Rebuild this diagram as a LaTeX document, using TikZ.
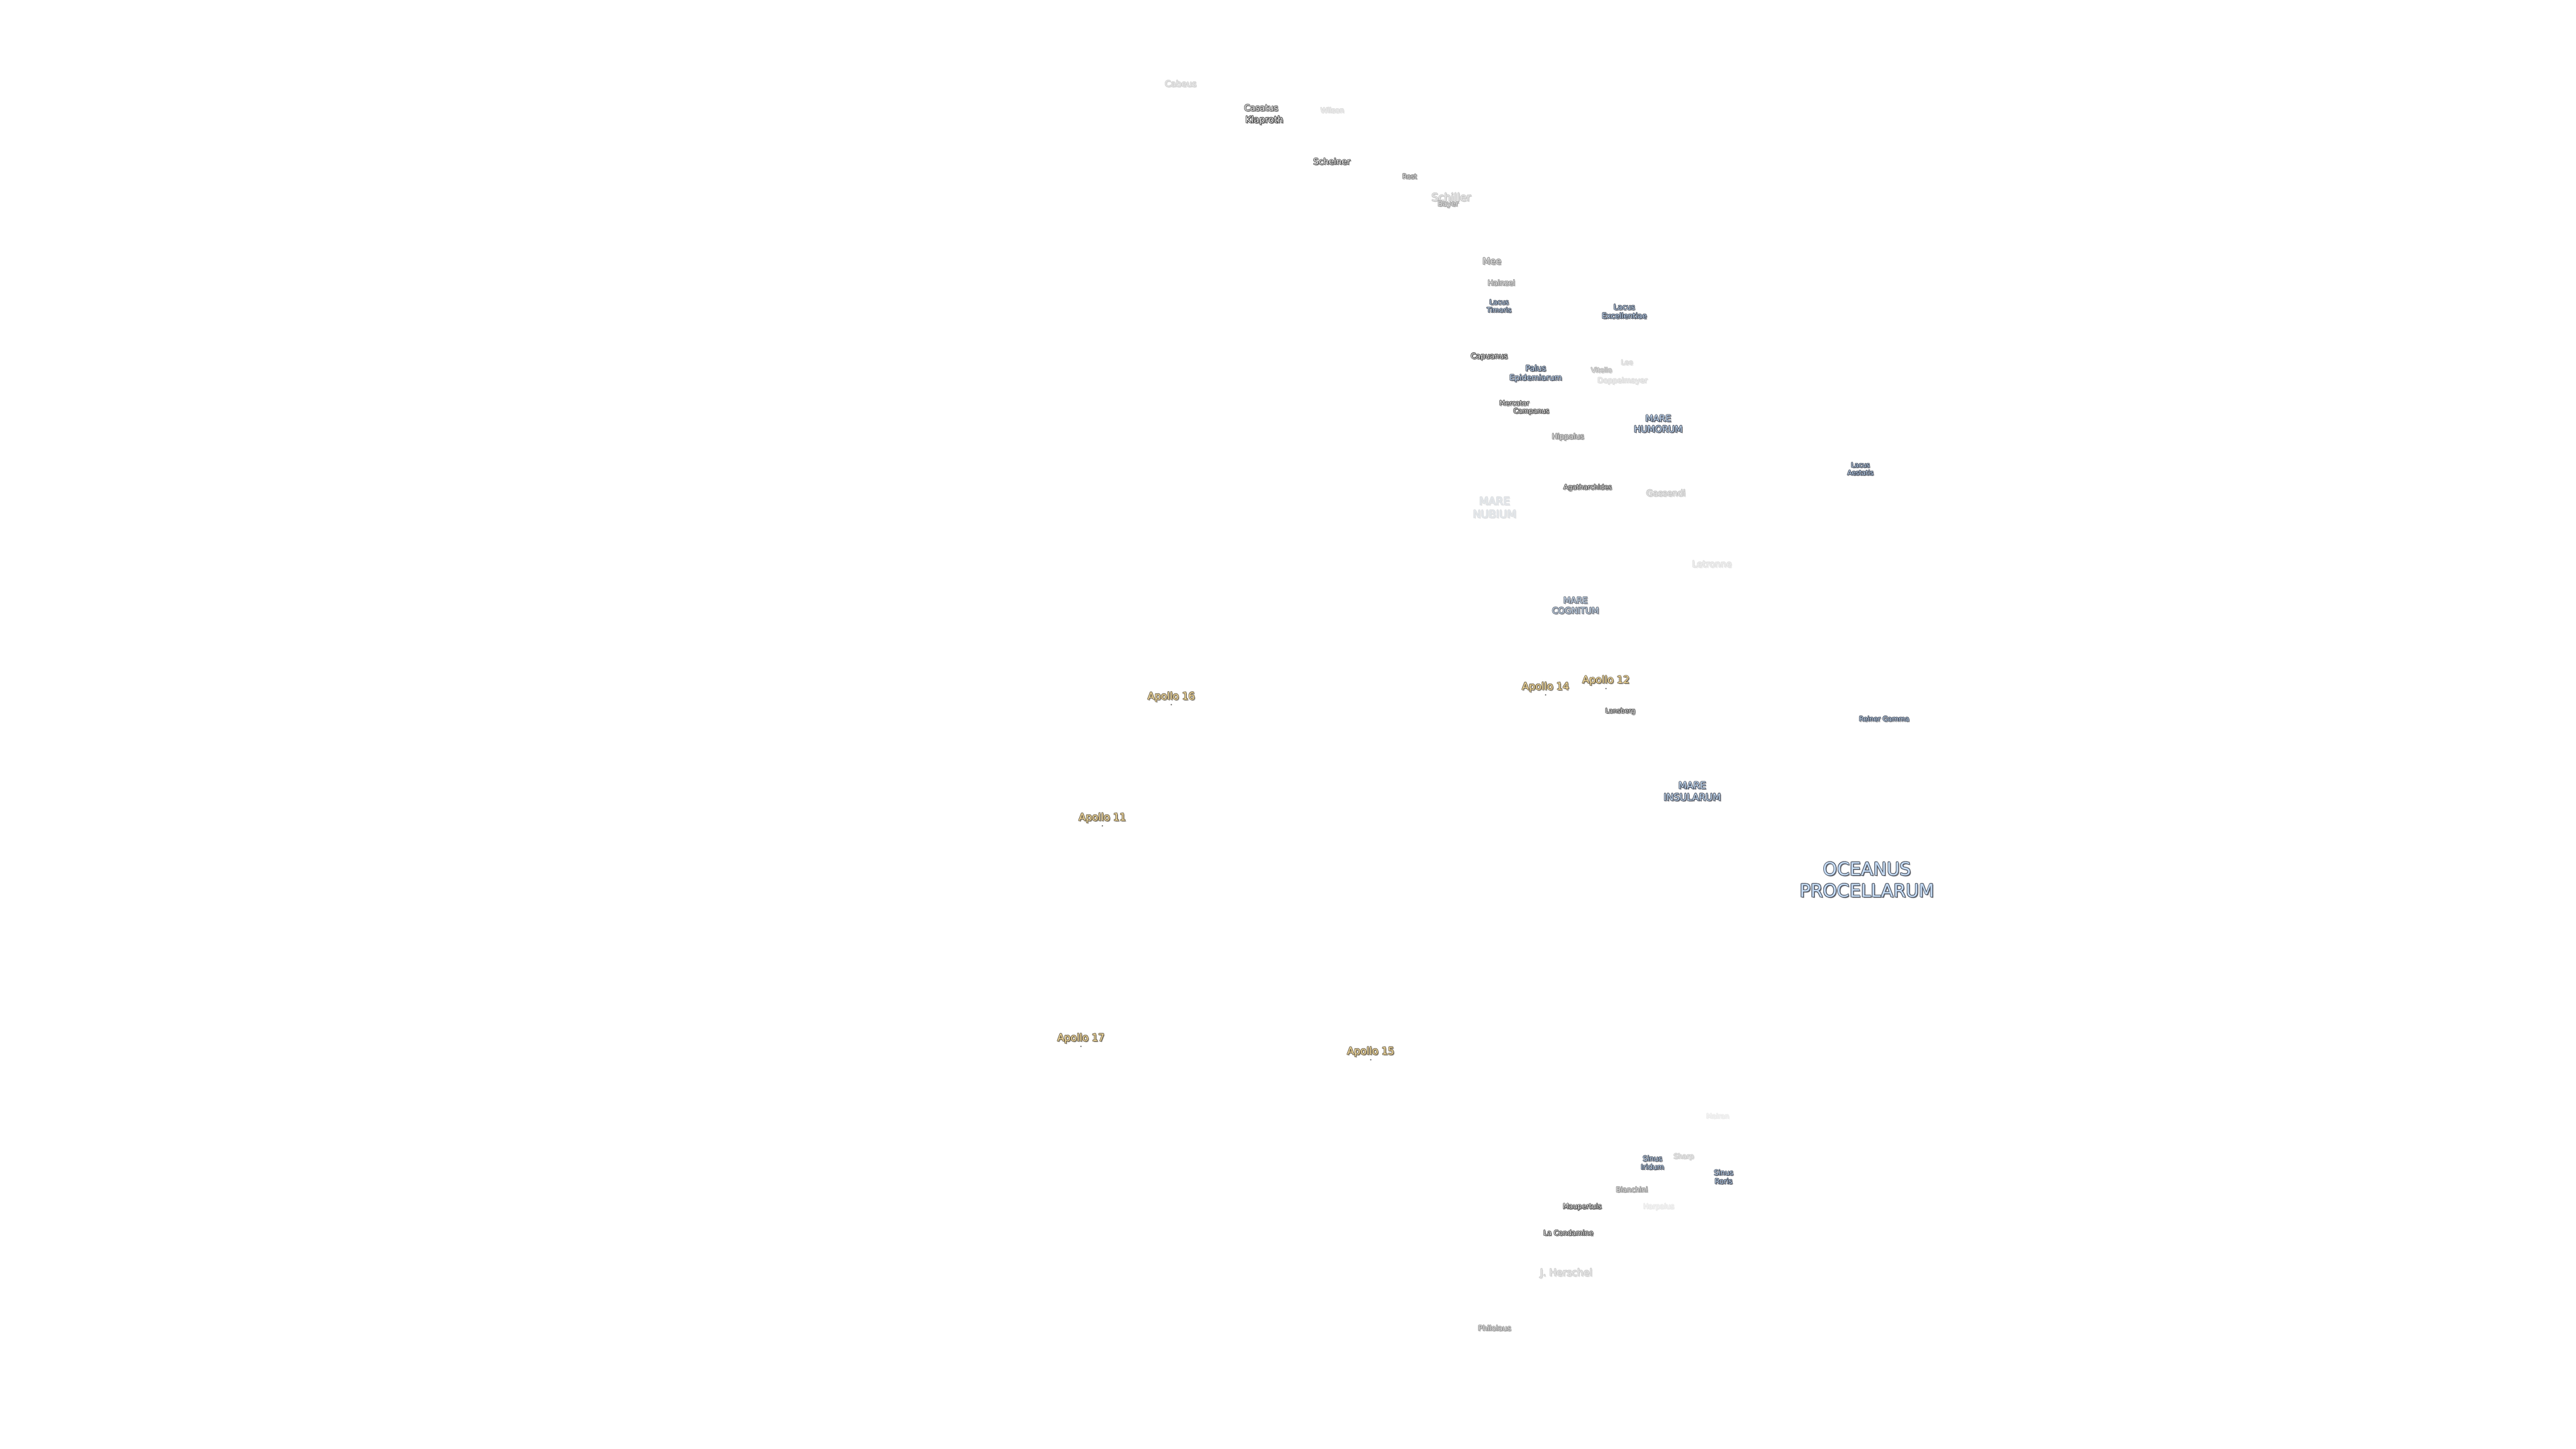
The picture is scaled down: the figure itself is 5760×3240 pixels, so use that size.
\documentclass[tikz,border=0pt]{standalone}
\usepackage{fontspec}
\setmainfont{DejaVu Sans}
\usepackage{xcolor}
\definecolor{crOL}{RGB}{55,55,55}
\definecolor{crSH}{RGB}{125,125,125}
\definecolor{crFL}{RGB}{252,252,252}
\definecolor{maOL}{RGB}{68,76,90}
\definecolor{maSH}{RGB}{125,125,130}
\definecolor{maFL}{RGB}{198,220,245}
\definecolor{apOL}{RGB}{105,94,72}
\definecolor{apSH}{RGB}{145,140,130}
\definecolor{apFL}{RGB}{247,222,160}
\newcommand\fs[1]{\fontsize{\fpeval{#1*0.28453}pt}{\fpeval{#1*0.28453*1.2}pt}\selectfont}
\newcommand\olcopy[3]{\rlap{\hspace*{#2}\raisebox{#3}{\color{#1}\oltxt}}}
\newcommand\outl[4]{\def\oltxt{#4}%
  \olcopy{#2}{0.65pt}{-0.65pt}%
  \olcopy{#1}{0.33pt}{0pt}\olcopy{#1}{-0.33pt}{0pt}\olcopy{#1}{0pt}{0.33pt}\olcopy{#1}{0pt}{-0.33pt}%
  \olcopy{#1}{0.24pt}{0.24pt}\olcopy{#1}{-0.24pt}{0.24pt}\olcopy{#1}{0.24pt}{-0.24pt}\olcopy{#1}{-0.24pt}{-0.24pt}%
  {\color{#3}\oltxt}}
\newcommand\mk[3]{\edef\keep{\fpeval{round(100-0.45*#2*(100-#2)/100,1)}}%
  \outl{#1OL!#2!white}{#1SH!#2!white}{#1FL!#2!white!\keep!black}{#3}}
\newcommand\two[2]{\begin{tabular}{@{}c@{}}#1\\#2\end{tabular}}
\tikzset{
  lbl/.style={inner sep=0pt, outer sep=0pt, anchor=center},
  apdot/.style={circle, fill=black!65, inner sep=0pt, minimum size=0.9pt},
}
\newcommand\lab[7]{\node[lbl, font=\fs{#4}] (#1) at (#2,#3) {\mk{#5}{#6}{#7}};}
\begin{document}
\begin{tikzpicture}[x=0.01cm,y=-0.01cm]
\useasboundingbox[fill=white] (0,0) rectangle (5760,3240);
\begin{scope}[shift={(0,5)}]
% faded labels first
\lab{cabeus}{2640}{183}{19}{cr}{24}{Cabeus}
\lab{wilson}{2979}{242}{16}{cr}{18}{Wilson}
\lab{schiller}{3245}{437}{24}{cr}{30}{Schiller}
\lab{lee}{3638}{806}{15}{cr}{20}{Lee}
\lab{vitello}{3581}{823}{15}{cr}{38}{Vitello}
\lab{doppel}{3628}{848}{16.5}{cr}{18}{Doppelmayer}
\lab{gassendi}{3725}{1098}{19}{cr}{30}{Gassendi}
\lab{nubium}{3342}{1134}{24}{ma}{18}{\two{MARE}{NUBIUM}}
\lab{letronne}{3828}{1257}{20}{cr}{16}{Letronne}
\lab{mairan}{3841}{2492}{15}{cr}{10}{Mairan}
\lab{sharp}{3765}{2583}{15.5}{cr}{26}{Sharp}
\lab{harpalus}{3709}{2695}{15.5}{cr}{11}{Harpalus}
\lab{herschel}{3502}{2843}{22}{cr}{26}{J. Herschel}
% medium
\lab{rost}{3152}{390}{15}{cr}{65}{Rost}
\lab{bayer}{3238}{453}{16}{cr}{50}{Bayer}
\lab{mee}{3336}{580}{20}{cr}{55}{Mee}
\lab{hainzel}{3357}{628}{16.5}{cr}{55}{Hainzel}
\lab{hippalus}{3506}{973}{16.5}{cr}{60}{Hippalus}
\lab{bianchini}{3649}{2656}{15.5}{cr}{55}{Bianchini}
\lab{philolaus}{3342}{2966}{16.5}{cr}{55}{Philolaus}
% strong
\lab{casatus}{2820}{237}{19}{cr}{80}{Casatus}
\lab{klaproth}{2827}{265}{20}{cr}{100}{Klaproth}
\lab{scheiner}{2978}{357}{19}{cr}{90}{Scheiner}
\lab{timoris}{3352}{682}{15}{ma}{100}{\two{Lacus}{Timoris}}
\lab{excell}{3632}{694}{16.5}{ma}{100}{\two{Lacus}{Excellentiae}}
\lab{capuanus}{3330}{793}{16.5}{cr}{100}{Capuanus}
\lab{palus}{3434}{832}{17.5}{ma}{100}{\two{Palus}{Epidemiarum}}
\lab{mercator}{3386}{897}{15}{cr}{90}{Mercator}
\lab{campanus}{3424}{916}{15}{cr}{90}{Campanus}
\lab{humorum}{3708}{946}{20}{ma}{100}{\two{MARE}{HUMORUM}}
\lab{aestatis}{4160}{1046}{14.5}{ma}{100}{\two{Lacus}{Aestatis}}
\lab{agath}{3550}{1086}{15}{cr}{90}{Agatharchides}
\lab{cognitum}{3523}{1352}{19}{ma}{80}{\two{MARE}{COGNITUM}}
\lab{lansberg}{3623}{1586}{14.5}{cr}{90}{Lansberg}
\lab{reiner}{4213}{1603}{15}{ma}{100}{Reiner Gamma}
\lab{insularum}{3784}{1768}{21.5}{ma}{100}{\two{MARE}{INSULARUM}}
\lab{oceanus}{4175}{1968}{40}{ma}{100}{\two{OCEANUS}{PROCELLARUM}}
\lab{iridum}{3695}{2598}{16}{ma}{100}{\two{Sinus}{Iridum}}
\lab{roris}{3854}{2630}{16}{ma}{100}{\two{Sinus}{Roris}}
\lab{maupertuis}{3538}{2695}{15.5}{cr}{90}{Maupertuis}
\lab{lacond}{3507}{2753}{15.5}{cr}{90}{La Condamine}
% Apollo landing sites
\node[apdot] (ap16dot) at (2619,1571) {};
\node[apdot] (ap14dot) at (3456,1549) {};
\node[apdot] (ap12dot) at (3591,1535) {};
\node[apdot] (ap11dot) at (2465,1842) {};
\node[apdot] (ap17dot) at (2417,2335) {};
\node[apdot] (ap15dot) at (3065,2365) {};
\lab{ap16}{2619}{1554}{22.5}{ap}{100}{Apollo 16}
\lab{ap14}{3456}{1532}{22.5}{ap}{100}{Apollo 14}
\lab{ap12}{3591}{1518}{22.5}{ap}{100}{Apollo 12}
\lab{ap11}{2465}{1825}{22.5}{ap}{100}{Apollo 11}
\lab{ap17}{2417}{2318}{22.5}{ap}{100}{Apollo 17}
\lab{ap15}{3065}{2348}{22.5}{ap}{100}{Apollo 15}
\end{scope}
\end{tikzpicture}
\end{document}
